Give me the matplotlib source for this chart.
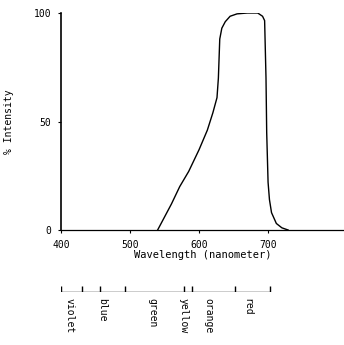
import matplotlib
matplotlib.use("Agg")
import matplotlib.pyplot as plt

# transmission curve
wavelength = [540, 550, 560, 572, 585, 600, 612, 620, 626, 628, 630, 633, 638,
              645, 655, 670, 685, 692, 695, 697, 698, 700, 702, 705, 712, 720, 729]
intensity = [0, 6, 12, 20, 27, 37, 46, 54, 61, 70, 88, 93, 96,
             98.5, 99.6, 100, 100, 98.5, 96.5, 70, 45, 22, 14, 8, 3, 1, 0]

xticks = [400, 500, 600, 700]
yticks = [0, 50, 100]
ytick_labels = ["0", "50", "100"]

# colour band scale below the axis
band_ticks = [400, 430, 457, 492, 578, 590, 652, 703]
band_names = ["violet", "blue", "green", "yellow", "orange", "red"]
band_label_pos = [413, 460, 532, 577, 614, 670]

plt.rcParams["font.family"] = ["DejaVu Sans Mono"]

fig = plt.figure(figsize=(3.44, 3.45), dpi=100)
W, H = 344, 345
left, right = 61 / W, 1.0
bottom, top = 1 - 230 / H, 1 - 13 / H
ax = fig.add_axes([left, bottom, right - left, top - bottom])

ax.plot(wavelength, intensity, color="black", lw=1.0)
ax.set_xlim(400, 810)
ax.set_ylim(0, 100)
ax.spines["top"].set_visible(False)
ax.spines["right"].set_visible(False)
ax.spines["left"].set_linewidth(1.2)
ax.spines["bottom"].set_linewidth(0.9)
ax.set_xticks(xticks)
ax.set_xticklabels([str(t) for t in xticks], fontsize=7)
ax.set_yticks(yticks)
ax.set_yticklabels(ytick_labels, fontsize=7)
ax.tick_params(axis="both", length=2, width=0.8, pad=5)
ax.set_xlabel("Wavelength (nanometer)", fontsize=7.5, labelpad=0)
ax.set_ylabel("% Intensity", fontsize=7, labelpad=14)

# colour band scale
sax = fig.add_axes([left, 1 - 292 / H, right - left, 8 / H])
sax.set_xlim(400, 810)
sax.set_ylim(0, 1)
sax.axis("off")
sax.hlines(0, band_ticks[0], band_ticks[-1], color="black", lw=1.0)
sax.vlines(band_ticks, 0, 0.8, color="black", lw=1.0)
for name, pos in zip(band_names, band_label_pos):
    sax.text(pos, -0.7, name, rotation=270, ha="center", va="top", fontsize=7)

fig.savefig("out.png", dpi=100)
